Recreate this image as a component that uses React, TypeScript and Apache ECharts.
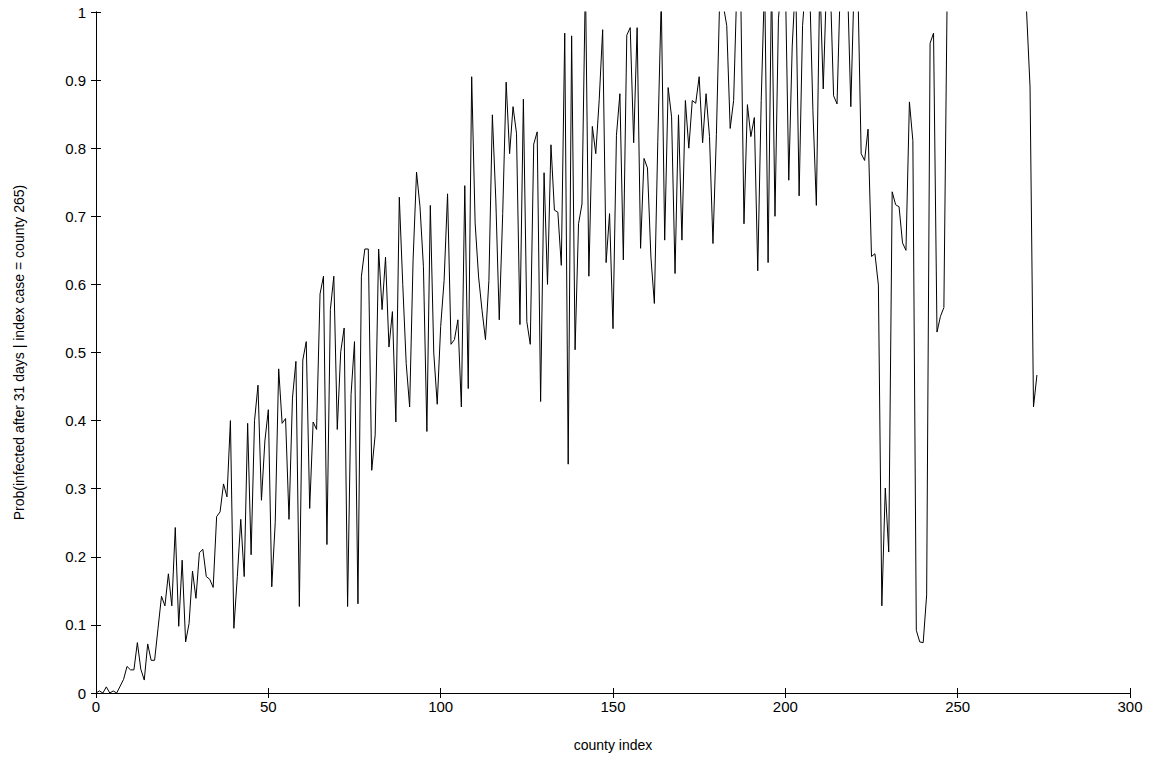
import { useEffect, useRef } from 'react';
import * as echarts from 'echarts';

// probability per county index 0..273 (values above 1 are clipped by the axis)
const probA = [
  0, 0.003, 0, 0.009, 0, 0.003, 0, 0.01, 0.02, 0.039, 0.034, 0.034, 0.074, 0.035, 0.019, 0.072, 0.048, 0.048, 0.095,
  0.142, 0.128, 0.175, 0.128, 0.243, 0.098, 0.195, 0.075, 0.102, 0.179, 0.139, 0.206, 0.211, 0.171, 0.167, 0.155,
  0.259, 0.266, 0.307, 0.288, 0.4, 0.095, 0.171, 0.255, 0.171, 0.396, 0.203, 0.4, 0.452, 0.283, 0.37,
];
const probB = [
  0.416, 0.156, 0.25, 0.476, 0.396, 0.403, 0.255, 0.433, 0.487, 0.127, 0.489, 0.516, 0.271, 0.398, 0.387, 0.586,
  0.612, 0.218, 0.563, 0.612, 0.387, 0.501, 0.536, 0.127, 0.438, 0.516, 0.131, 0.612, 0.652, 0.652, 0.327, 0.379,
  0.652, 0.563, 0.64, 0.508, 0.56, 0.398, 0.728, 0.6, 0.484, 0.42, 0.636, 0.765, 0.714, 0.626, 0.384, 0.716,
  0.499, 0.424,
];
const probC = [
  0.538, 0.606, 0.733, 0.512, 0.519, 0.548, 0.42, 0.745, 0.447, 0.905, 0.69, 0.611, 0.562, 0.519, 0.606, 0.849,
  0.724, 0.548, 0.704, 0.897, 0.792, 0.861, 0.822, 0.541, 0.872, 0.545, 0.512, 0.806, 0.824, 0.428, 0.764, 0.6,
  0.805, 0.709, 0.706, 0.628, 0.969, 0.336, 0.965, 0.504, 0.689, 0.718, 1.05, 0.612, 0.832, 0.792, 0.871, 0.974,
  0.632, 0.704,
];
const probD = [
  0.535, 0.819, 0.88, 0.636, 0.966, 0.977, 0.808, 0.977, 0.653, 0.785, 0.771, 0.64, 0.572, 0.81, 1.02, 0.665,
  0.889, 0.846, 0.616, 0.849, 0.665, 0.87, 0.8, 0.87, 0.866, 0.905, 0.808, 0.88, 0.817, 0.66, 0.82, 1.03, 1.01,
  0.98, 0.829, 0.87, 1.05, 1.05, 0.689, 0.864, 0.817, 0.845, 0.62, 0.87, 1.05, 0.632, 1.05, 0.7, 0.99, 1.05, 1.05,
];
const probE = [
  0.753, 0.95, 1.05, 0.73, 0.98, 1.05, 1.05, 0.855, 0.716, 1.05, 0.887, 1.05, 1.05, 0.877, 0.865, 1.05, 1.05,
  1.05, 0.861, 1.05, 1.05, 0.792, 0.782, 0.828, 0.641, 0.645, 0.599, 0.128, 0.301, 0.207, 0.736, 0.717, 0.714, 0.661,
  0.65, 0.868, 0.811, 0.092, 0.075, 0.074, 0.144, 0.954, 0.969, 0.53, 0.553, 0.566, 1.05, 1.05, 1.05, 1.05, 1.05,
];
const probF = [
  1.05, 1.05, 1.05, 1.05, 1.05, 1.05, 1.05, 1.05, 1.05, 1.05, 1.05, 1.05, 1.05, 1.05, 1.05, 1.05, 1.05,
  1.05, 1.0, 0.89, 0.42, 0.467,
];
const prob = [...probA, ...probB, ...probC, ...probD, ...probE, ...probF];

const font = 'Liberation Sans, Arial, sans-serif';

function App() {
  const ref = useRef<HTMLDivElement>(null);

  useEffect(() => {
    if (!ref.current) return;
    const chart = echarts.init(ref.current, null, { renderer: 'svg' });
    const axisLine = { show: true, lineStyle: { color: '#000', width: 1 } };
    const tick = { show: true, inside: true, length: 5, lineStyle: { color: '#000' } };
    const label = { color: '#000', fontSize: 15, fontFamily: font };
    chart.setOption({
      animation: false,
      backgroundColor: '#fff',
      grid: { left: 96, right: 24, top: 12, bottom: 72 },
      xAxis: [
        {
          type: 'value', min: 0, max: 300, interval: 50,
          name: 'county index', nameLocation: 'middle', nameGap: 45,
          nameTextStyle: { color: '#000', fontSize: 14, fontFamily: font },
          axisLine, axisTick: tick, axisLabel: { ...label, margin: 6 }, splitLine: { show: false },
        },
        {
          type: 'value', position: 'top', min: 0, max: 300, interval: 50,
          axisLine, axisTick: tick, axisLabel: { show: false }, splitLine: { show: false },
        },
      ],
      yAxis: [
        {
          type: 'value', min: 0, max: 1, interval: 0.1,
          name: 'Prob(infected after 31 days | index case = county 265)', nameLocation: 'middle', nameGap: 70,
          nameTextStyle: { color: '#000', fontSize: 14, fontFamily: font },
          axisLine, axisTick: tick,
          axisLabel: { ...label, margin: 10, formatter: (v: number) => String(Math.round(v * 10) / 10) },
          splitLine: { show: false },
        },
        {
          type: 'value', position: 'right', min: 0, max: 1, interval: 0.1,
          axisLine, axisTick: tick, axisLabel: { show: false }, splitLine: { show: false },
        },
      ],
      series: [
        {
          type: 'line',
          data: prob.map((v, i) => [i, v]),
          showSymbol: false,
          clip: true,
          lineStyle: { color: '#000', width: 1 },
        },
      ],
    });
    return () => chart.dispose();
  }, []);

  return <div ref={ref} style={{ width: 1154, height: 765, margin: -8 }} />;
}

export default App;
